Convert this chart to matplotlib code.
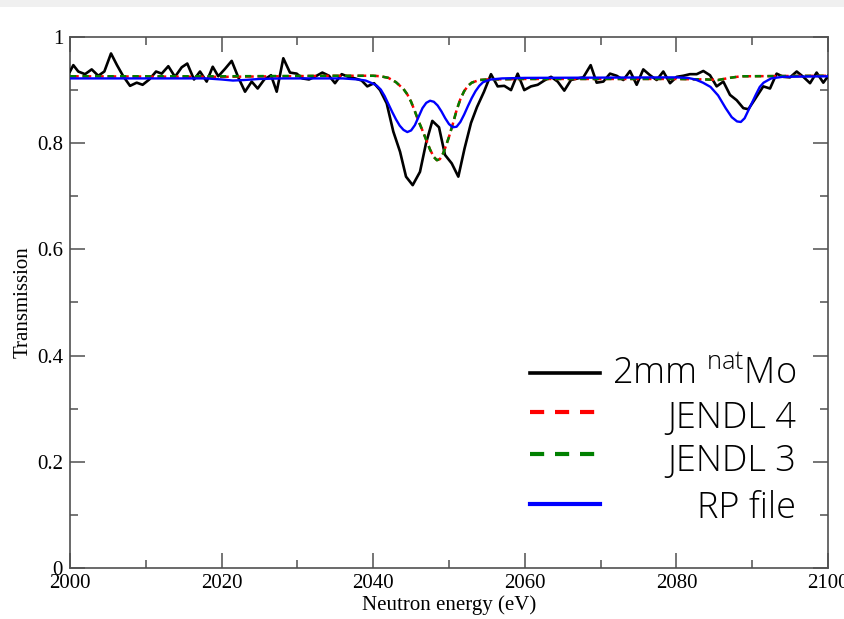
import matplotlib
matplotlib.use("Agg")
import matplotlib.pyplot as plt
from matplotlib.patches import Rectangle
from matplotlib.ticker import MultipleLocator

# Measured transmission of 2 mm natural Mo
energy_exp = [
    2000.00, 2000.44, 2001.09, 2001.98, 2002.86, 2003.73, 2004.53, 2005.41, 2006.20, 2007.03,
    2007.92, 2008.80, 2009.58, 2010.46, 2011.35, 2012.10, 2012.97, 2013.85, 2014.74, 2015.47,
    2016.36, 2017.15, 2018.03, 2018.83, 2019.56, 2020.45, 2021.33, 2022.20, 2023.09, 2023.97,
    2024.76, 2025.63, 2026.52, 2027.27, 2028.14, 2029.02, 2029.91, 2030.65, 2031.53, 2032.41,
    2033.29, 2034.17, 2034.96, 2035.84, 2036.71, 2037.60, 2038.48, 2039.22, 2040.11, 2040.90,
    2041.78, 2042.65, 2043.54, 2044.33, 2045.21, 2046.17, 2046.97, 2047.80, 2048.68, 2049.47,
    2050.36, 2051.23, 2052.05, 2052.90, 2053.69, 2054.62, 2055.54, 2056.42, 2057.30, 2058.18,
    2059.06, 2059.93, 2060.82, 2061.70, 2062.57, 2063.46, 2064.34, 2065.21, 2066.09, 2066.97,
    2067.72, 2068.69, 2069.48, 2070.36, 2071.24, 2072.12, 2073.00, 2073.88, 2074.76, 2075.63,
    2076.52, 2077.40, 2078.27, 2079.16, 2080.04, 2080.91, 2081.79, 2082.68, 2083.55, 2084.43,
    2085.31, 2086.19, 2087.07, 2087.95, 2088.83, 2089.49, 2090.37, 2091.46, 2092.35, 2093.22,
    2094.10, 2094.99, 2095.87, 2096.74, 2097.63, 2098.50, 2099.38, 2100.04,
]
trans_exp = [
    0.935, 0.947, 0.935, 0.930, 0.939, 0.927, 0.935, 0.969, 0.947, 0.926,
    0.908, 0.914, 0.910, 0.920, 0.935, 0.931, 0.945, 0.925, 0.943, 0.950,
    0.920, 0.935, 0.916, 0.944, 0.926, 0.940, 0.955, 0.924, 0.897, 0.916,
    0.903, 0.920, 0.928, 0.897, 0.960, 0.933, 0.931, 0.922, 0.920, 0.926,
    0.933, 0.927, 0.913, 0.930, 0.925, 0.922, 0.918, 0.907, 0.913, 0.900,
    0.875, 0.822, 0.784, 0.737, 0.721, 0.746, 0.800, 0.842, 0.830, 0.778,
    0.762, 0.737, 0.790, 0.838, 0.868, 0.897, 0.930, 0.907, 0.908, 0.900,
    0.931, 0.900, 0.907, 0.910, 0.918, 0.925, 0.916, 0.899, 0.919, 0.922,
    0.924, 0.947, 0.914, 0.916, 0.931, 0.927, 0.919, 0.936, 0.910, 0.939,
    0.928, 0.919, 0.935, 0.913, 0.925, 0.927, 0.930, 0.930, 0.936, 0.928,
    0.907, 0.916, 0.891, 0.881, 0.866, 0.864, 0.883, 0.907, 0.903, 0.931,
    0.925, 0.924, 0.935, 0.925, 0.913, 0.933, 0.914, 0.927,
]

# Evaluated-library transmission (JENDL-4 and JENDL-3)
energy_jendl = [
    2000.0, 2020.0, 2035.0, 2040.0, 2041.0, 2042.0, 2043.0, 2044.0, 2044.5, 2045.0,
    2045.5, 2046.0, 2046.5, 2047.0, 2047.5, 2048.0, 2048.4, 2048.8, 2049.2, 2049.6,
    2050.0, 2050.5, 2051.0, 2051.5, 2052.0, 2052.5, 2053.0, 2054.0, 2055.0, 2060.0,
    2080.0, 2084.0, 2085.5, 2087.0, 2088.5, 2100.0,
]
trans_jendl4 = [
    0.926, 0.925, 0.927, 0.927, 0.926, 0.923, 0.915, 0.902, 0.892, 0.878,
    0.860, 0.841, 0.824, 0.806, 0.788, 0.774, 0.768, 0.770, 0.780, 0.795,
    0.812, 0.836, 0.862, 0.883, 0.898, 0.908, 0.914, 0.919, 0.920, 0.921,
    0.921, 0.920, 0.919, 0.923, 0.926, 0.927,
]
trans_jendl3 = [
    0.926, 0.926, 0.927, 0.927, 0.926, 0.923, 0.915, 0.902, 0.892, 0.878,
    0.860, 0.841, 0.824, 0.806, 0.788, 0.774, 0.768, 0.770, 0.780, 0.795,
    0.812, 0.836, 0.862, 0.883, 0.898, 0.908, 0.914, 0.919, 0.920, 0.921,
    0.921, 0.920, 0.919, 0.923, 0.926, 0.927,
]

# Transmission from the resonance-parameter file
energy_rp = [
    2000.0, 2018.0, 2020.0, 2021.5, 2023.0, 2025.0, 2028.0, 2036.0, 2038.0, 2039.0,
    2040.0, 2040.5, 2041.0, 2041.5, 2042.0, 2042.5, 2043.0, 2043.5, 2044.0, 2044.5,
    2045.0, 2045.5, 2046.0, 2046.5, 2047.0, 2047.5, 2048.0, 2048.5, 2049.0, 2049.5,
    2050.0, 2050.5, 2051.0, 2051.5, 2052.0, 2052.5, 2053.0, 2053.5, 2054.0, 2054.5,
    2055.5, 2057.0, 2060.0, 2080.0, 2081.5, 2082.5, 2083.5, 2084.5, 2085.5, 2086.5,
    2087.3, 2088.0, 2088.5, 2089.0, 2089.5, 2090.0, 2090.5, 2091.0, 2091.5, 2092.5,
    2094.0, 2100.0,
]
trans_rp = [
    0.922, 0.922, 0.920, 0.918, 0.919, 0.921, 0.922, 0.922, 0.920, 0.918,
    0.912, 0.908, 0.901, 0.889, 0.874, 0.859, 0.845, 0.833, 0.825, 0.821,
    0.824, 0.834, 0.850, 0.866, 0.876, 0.880, 0.878, 0.871, 0.860, 0.847,
    0.836, 0.830, 0.831, 0.840, 0.854, 0.870, 0.885, 0.898, 0.908, 0.915,
    0.920, 0.922, 0.923, 0.924, 0.923, 0.920, 0.914, 0.906, 0.890, 0.866,
    0.849, 0.841, 0.840, 0.847, 0.862, 0.877, 0.892, 0.906, 0.914, 0.922,
    0.925, 0.926,
]

legend_labels = [r"2mm $^{\mathrm{nat}}$Mo", "JENDL 4", "JENDL 3", "RP file"]
legend_font = "Open Sans"

plt.rcParams["mathtext.fontset"] = "custom"
plt.rcParams["mathtext.rm"] = legend_font + ":light"

W, H = 844, 619
fig = plt.figure(figsize=(W / 100, H / 100), dpi=100)
fig.patch.set_facecolor("white")
fig.patches.append(Rectangle((0, 1 - 7 / H), 1, 7 / H, transform=fig.transFigure,
                             facecolor="#f0f0f0", edgecolor="none", zorder=-10))

ax = fig.add_axes([70 / W, 1 - 568 / H, 758 / W, 531 / H])

ax.plot(energy_exp, trans_exp, color="black", lw=1.9, zorder=3)
ax.plot(energy_jendl, trans_jendl4, color="red", lw=1.8, ls=(0, (3.5, 1.5)), zorder=4)
ax.plot(energy_jendl, trans_jendl3, color="green", lw=1.8, ls=(0, (2.5, 2.5)), zorder=5)
ax.plot(energy_rp, trans_rp, color="blue", lw=1.7, zorder=6)

ax.set_xlim(2000, 2100)
ax.set_ylim(0, 1)
ax.xaxis.set_major_locator(MultipleLocator(20))
ax.xaxis.set_minor_locator(MultipleLocator(10))
ax.set_yticks([0, 0.2, 0.4, 0.6, 0.8, 1.0])
ax.set_yticklabels(["0", "0.2", "0.4", "0.6", "0.8", "1"])
ax.yaxis.set_minor_locator(MultipleLocator(0.1))

frame_col = "#505050"
for s in ax.spines.values():
    s.set_color(frame_col)
    s.set_linewidth(1.2)
ax.tick_params(which="both", direction="in", top=True, right=True, color=frame_col, width=1.1)
ax.tick_params(which="major", length=11)
ax.tick_params(which="minor", length=6)
serif = "Liberation Serif"
ax.tick_params(axis="y", pad=5, labelsize=15)
ax.tick_params(axis="x", pad=4, labelsize=15)
for lab in ax.get_xticklabels() + ax.get_yticklabels():
    lab.set_fontfamily(serif)
ax.set_xlabel("Neutron energy (eV)", fontfamily=serif, fontsize=15, labelpad=2)
ax.set_ylabel("Transmission", fontfamily=serif, fontsize=15, labelpad=3)

# Legend drawn by hand with right-aligned labels
def ax_pt(px, py):
    return (px - 70) / 758, (568 - py) / 531

handle_y = [373, 412, 454, 504]
text_base = [384, 428, 471, 518]
styles = [
    dict(color="black", lw=2.6, ls="-"),
    dict(color="red", lw=3.0, ls=(0, (3.4, 2.6))),
    dict(color="green", lw=3.0, ls=(0, (3.4, 2.6))),
    dict(color="blue", lw=3.0, ls="-"),
]
for hy, tb, st, lab in zip(handle_y, text_base, styles, legend_labels):
    x0, y0 = ax_pt(530, hy)
    x1, _ = ax_pt(600, hy)
    ax.plot([x0, x1], [y0, y0], transform=ax.transAxes, clip_on=False, **st)
    tx, ty = ax_pt(796, tb)
    ax.text(tx, ty, lab, transform=ax.transAxes, ha="right", va="baseline",
            fontsize=26, fontfamily=legend_font, fontweight="light", color="black")

fig.savefig("out.png", dpi=100)
